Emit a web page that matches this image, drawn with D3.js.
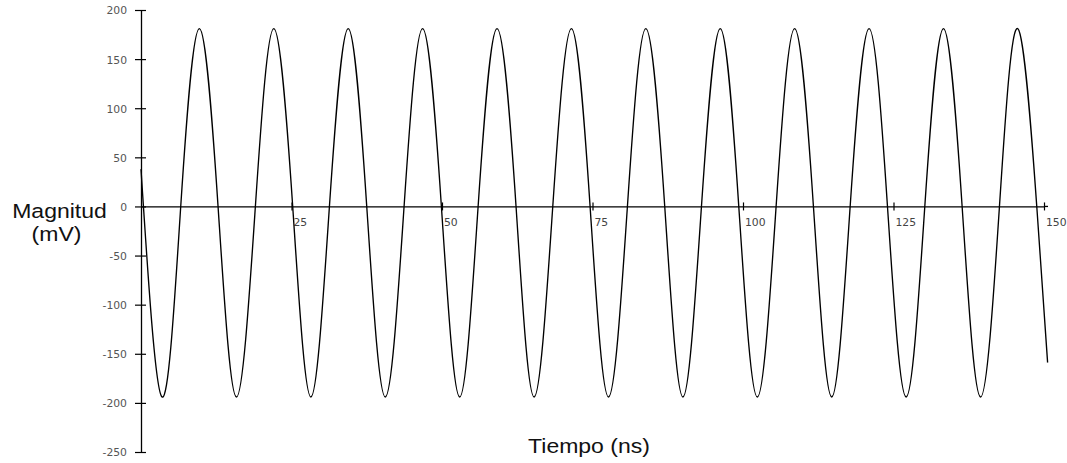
<!DOCTYPE html>
<html>
<head>
<meta charset="utf-8">
<script src="https://cdn.jsdelivr.net/npm/d3@7"></script>
<style>
  html, body { margin: 0; padding: 0; background: #fff; }
  svg { display: block; }
  .tick text { font-family: "DejaVu Sans", Verdana, sans-serif; font-size: 10.8px; fill: #555; }
  .title { font-family: "Liberation Sans", Arial, sans-serif; font-size: 19.5px; fill: #111; }
</style>
</head>
<body>
<svg id="chart" width="1067" height="463"></svg>
<script>
// Signal samples (time in ns, magnitude in mV)
const startPoint = [0, 38];
const endPoint = [150.6, -159];

const peakTimes = [9.7, 22.06, 34.42, 46.78, 59.14, 71.5, 83.86, 96.22, 108.58, 120.94, 133.3, 145.66];
const peakValues = [181, 181, 181, 181, 181, 181, 181, 181, 181, 181, 181, 181];

const troughTimes = [3.5, 15.86, 28.22, 40.58, 52.94, 65.3, 77.66, 90.02, 102.38, 114.74, 127.1, 139.46];
const troughValues = [-194, -194, -194, -194, -194, -194, -194, -194, -194, -194, -194, -194];

// zero crossings on the way up and on the way down
const risingZeros = [6.6, 19.0, 31.3, 43.7, 56.0, 68.4, 80.8, 93.1, 105.5, 117.8, 130.2, 142.6];
const fallingZeros = [12.8, 25.2, 37.5, 49.9, 62.3, 74.6, 87.0, 99.3, 111.7, 124.0, 136.4, 148.8];

const xTicks = [25, 50, 75, 100, 125, 150];
const yTicks = [-250, -200, -150, -100, -50, 0, 50, 100, 150, 200];

const xLabel = "Tiempo (ns)";
const yLabelLines = ["Magnitud", "(mV)"];

// ---------------------------------------------------------------
const svg = d3.select("#chart");

const x = d3.scaleLinear().domain([0, 150]).range([141, 1044]);
const y = d3.scaleLinear().domain([-250, 200]).range([452, 10]);

// assemble the signal points in time order
const points = [startPoint]
  .concat(peakTimes.map((t, i) => [t, peakValues[i]]))
  .concat(troughTimes.map((t, i) => [t, troughValues[i]]))
  .concat(risingZeros.map(t => [t, 0]))
  .concat(fallingZeros.map(t => [t, 0]))
  .concat([endPoint])
  .sort((a, b) => a[0] - b[0]);

// plain hyphen for negative numbers
const fmt = d => String(d);

// y axis
const yAxis = svg.append("g")
  .attr("transform", `translate(${x(0)},0)`)
  .call(d3.axisLeft(y).tickValues(yTicks).tickSize(5).tickSizeOuter(0).tickPadding(9).tickFormat(fmt));
yAxis.select(".domain").attr("stroke", "#000").attr("stroke-width", 1.3);
yAxis.selectAll(".tick line").attr("x1", 5).attr("x2", -6).attr("stroke", "#000").attr("stroke-width", 1.2);
yAxis.selectAll(".tick text").attr("dy", "0.36em");

// x axis through zero
const xAxis = svg.append("g")
  .attr("transform", `translate(0,${y(0)})`)
  .call(d3.axisBottom(x).tickValues(xTicks).tickSize(4).tickSizeOuter(0).tickFormat(fmt));
xAxis.select(".domain").attr("stroke", "#000").attr("stroke-width", 1.3);
xAxis.append("line")
  .attr("x1", x.range()[1]).attr("x2", x.range()[1] + 4)
  .attr("stroke", "#000").attr("stroke-width", 1.3);
xAxis.selectAll(".tick line").attr("y1", -4).attr("y2", 4).attr("stroke", "#000").attr("stroke-width", 1.2);
xAxis.selectAll(".tick text")
  .attr("text-anchor", "start")
  .attr("x", 1.5).attr("y", 20).attr("dy", 0)
  .style("fill", "#444");

// the waveform
const line = d3.line()
  .x(d => x(d[0]))
  .y(d => y(d[1]))
  .curve(d3.curveNatural);

svg.append("path")
  .datum(points)
  .attr("fill", "none")
  .attr("stroke", "#000")
  .attr("stroke-width", 1.35)
  .attr("d", line);

// axis titles (wide sans lettering)
const stretch = 1.18;
function title(txt, cx, baseline) {
  svg.append("text")
    .attr("class", "title")
    .attr("text-anchor", "middle")
    .attr("transform", `translate(${cx},${baseline}) scale(${stretch},1)`)
    .text(txt);
}
title(yLabelLines[0], 59.5, 217.5);
title(yLabelLines[1], 56.5, 240.5);
title(xLabel, 589, 452.5);
</script>
</body>
</html>
